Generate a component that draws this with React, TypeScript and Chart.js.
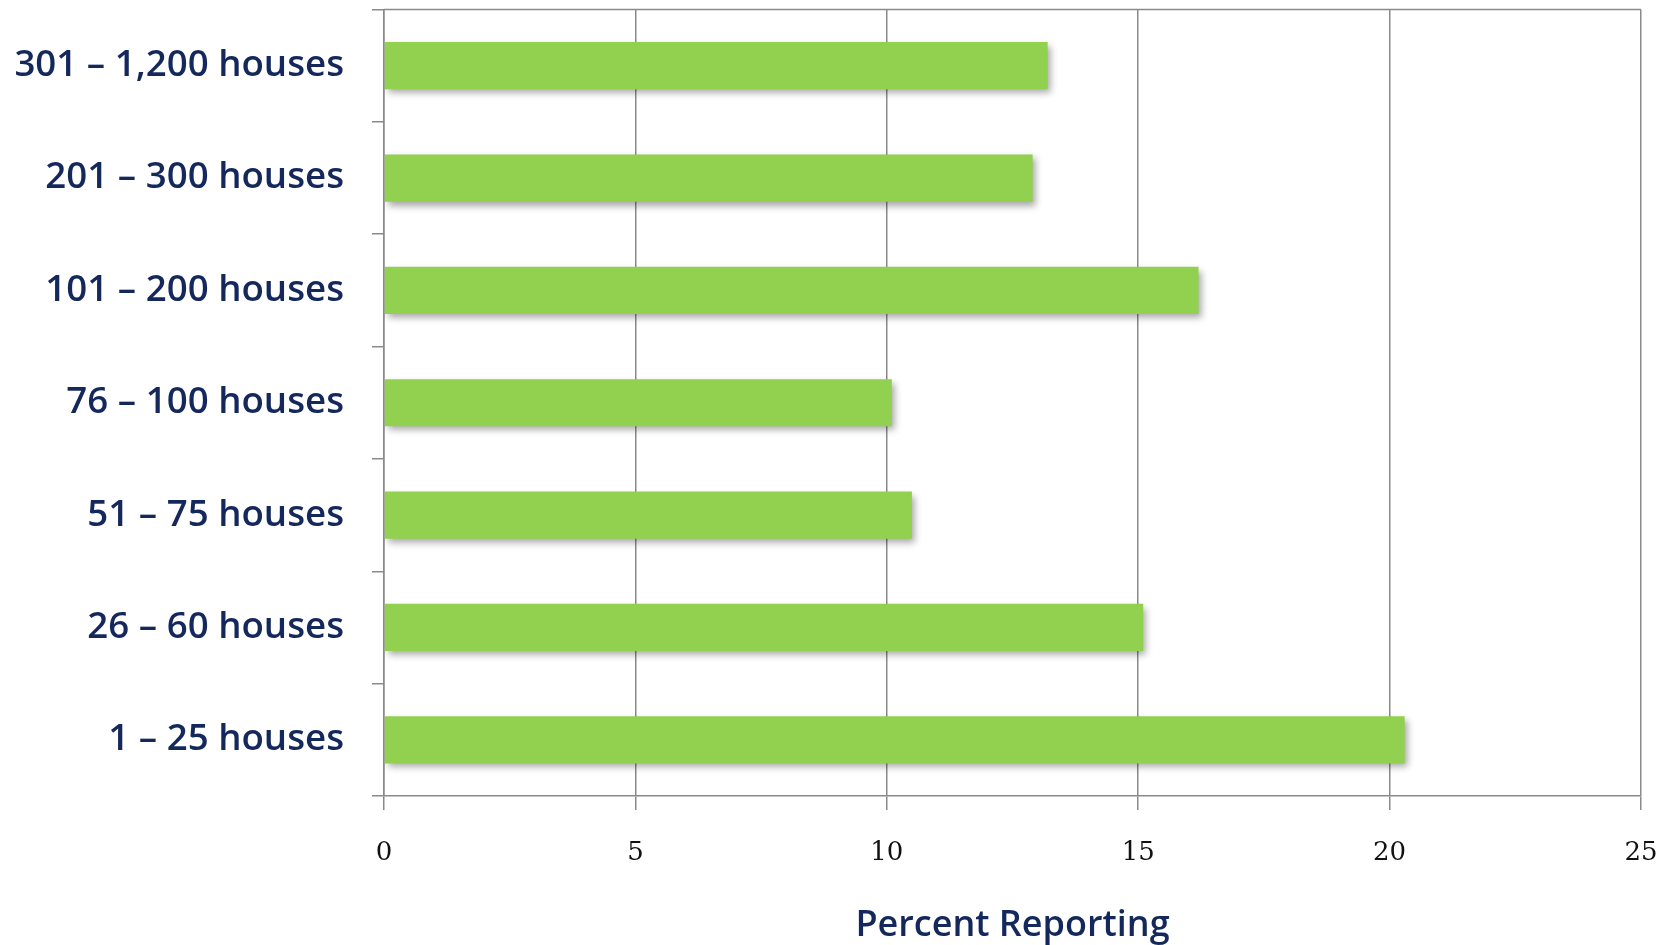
import React, { useEffect, useRef } from "react";
import { Chart, registerables } from "chart.js";

Chart.register(...registerables);

const categories = [
  "301 – 1,200 houses",
  "201 – 300 houses",
  "101 – 200 houses",
  "76 – 100 houses",
  "51 – 75 houses",
  "26 – 60 houses",
  "1 – 25 houses",
];
const percentReporting = [13.2, 12.9, 16.2, 10.1, 10.5, 15.1, 20.3];
const xTicks = [0, 5, 10, 15, 20, 25];
const axisTitle = "Percent Reporting";

const W = 1675;
const H = 945;
const NAVY = "#14285c";
const GRID = "#8a8a8a";

const shadowPlugin = {
  id: "barShadow",
  beforeDatasetsDraw(chart: any) {
    const { ctx, chartArea } = chart;
    ctx.save();
    ctx.strokeStyle = GRID;
    ctx.lineWidth = 1.5;
    ctx.beginPath();
    ctx.moveTo(chartArea.left, chartArea.top);
    ctx.lineTo(chartArea.right, chartArea.top);
    ctx.stroke();
    ctx.restore();
    ctx.save();
    ctx.shadowColor = "rgba(0,0,0,0.35)";
    ctx.shadowBlur = 7;
    ctx.shadowOffsetX = 3;
    ctx.shadowOffsetY = 4;
  },
  afterDatasetsDraw(chart: any) {
    chart.ctx.restore();
  },
};

export default function App() {
  const ref = useRef<HTMLCanvasElement | null>(null);
  useEffect(() => {
    if (!ref.current) return;
    const chart = new Chart(ref.current, {
      type: "bar",
      data: {
        labels: categories,
        datasets: [
          {
            data: percentReporting,
            backgroundColor: "#92d050",
            borderWidth: 0,
            categoryPercentage: 1,
            barPercentage: 0.42,
          },
        ],
      },
      plugins: [shadowPlugin],
      options: {
        indexAxis: "y",
        animation: false,
        responsive: false,
        devicePixelRatio: 1,
        layout: { padding: { top: 9.5, right: 34, left: 0, bottom: 0 } },
        plugins: { legend: { display: false }, tooltip: { enabled: false } },
        scales: {
          x: {
            min: 0,
            max: 25,
            afterBuildTicks: (scale: any) => {
              scale.ticks = xTicks.map((v) => ({ value: v }));
            },
            afterFit: (scale: any) => {
              scale.height = 149;
              scale.paddingLeft = 0;
              scale.paddingRight = 0;
            },
            grid: {
              color: GRID,
              lineWidth: 1.5,
              tickLength: 14,
              tickColor: GRID,
            },
            border: { color: GRID, width: 1.5 },
            ticks: {
              color: "#111",
              font: { family: "DejaVu Serif", size: 26 },
              padding: 28,
              maxRotation: 0,
            },
            title: {
              display: true,
              text: axisTitle,
              color: NAVY,
              font: { family: "Open Sans", size: 36, weight: "600", lineHeight: 1 },
              padding: { top: 0, bottom: 1.5 },
            },
          },
          y: {
            afterFit: (scale: any) => {
              scale.width = 384;
              scale.paddingTop = 0;
              scale.paddingBottom = 0;
            },
            grid: {
              drawOnChartArea: false,
              offset: true,
              tickLength: 12,
              tickColor: GRID,
              lineWidth: 1.5,
            },
            border: { color: GRID, width: 1.5 },
            ticks: {
              color: NAVY,
              font: { family: "Open Sans", size: 36.7, weight: "600" },
              padding: 28,
            },
          },
        },
      },
    } as any);
    return () => chart.destroy();
  }, []);
  return (
    <div style={{ position: "fixed", left: 0, top: 0, width: W, height: H, background: "#fff" }}>
      <canvas ref={ref} width={W} height={H} style={{ display: "block" }} />
    </div>
  );
}
